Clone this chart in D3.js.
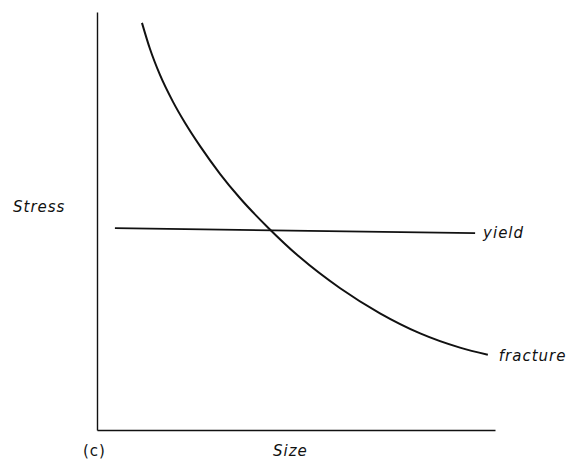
<!DOCTYPE html>
<html>
<head>
<meta charset="utf-8">
<script src="https://cdn.jsdelivr.net/npm/d3@7"></script>
<style>
  html, body { margin: 0; padding: 0; background: #fff; }
  svg text { font-family: "DejaVu Sans", sans-serif; fill: #111; }
</style>
</head>
<body>
<svg id="chart" width="575" height="461"></svg>
<script>
// Schematic stress vs. size: fracture stress falls with size, yield stress is roughly constant
const fractureSize   = [11.3, 13.3, 15.8, 19.1, 22.1, 25.9, 30.9, 35.9, 43.0, 51.0, 61.1, 71.1, 81.2, 91.2, 98.2];
const fractureStress = [97.4, 91.2, 85.0, 78.5, 73.5, 67.9, 61.3, 55.5, 48.4, 41.3, 33.9, 27.9, 23.1, 19.7, 18.0];
const yieldSize   = [4.5, 95.0];
const yieldStress = [48.3, 47.1];
const seriesLabels = ["yield", "fracture"];
const axisLabels = { x: "Size", y: "Stress", panel: "(c)" };

const svg = d3.select("#chart");
const x = d3.scaleLinear().domain([0, 100]).range([97, 495]);
const y = d3.scaleLinear().domain([0, 100]).range([430, 12]);

// bare axes, no ticks
const xAxis = svg.append("g").attr("transform", `translate(0,${y(0)})`)
  .call(d3.axisBottom(x).tickValues([]).tickSizeOuter(0));
const yAxis = svg.append("g").attr("transform", `translate(${x(0)},0)`)
  .call(d3.axisLeft(y).tickValues([]).tickSizeOuter(0));
[xAxis, yAxis].forEach(a => a.select(".domain").attr("stroke", "#111").attr("stroke-width", 1.4));

const line = d3.line().x(d => x(d[0])).y(d => y(d[1]));

svg.append("path")
  .datum(yieldSize.map((s, i) => [s, yieldStress[i]]))
  .attr("d", line)
  .attr("fill", "none").attr("stroke", "#111").attr("stroke-width", 1.8);

svg.append("path")
  .datum(fractureSize.map((s, i) => [s, fractureStress[i]]))
  .attr("d", line.curve(d3.curveMonotoneX))
  .attr("fill", "none").attr("stroke", "#111").attr("stroke-width", 2);

const labelStyle = t => t.attr("font-size", 15).attr("font-style", "italic").attr("letter-spacing", 1);

// series labels at the line ends
labelStyle(svg.append("text")
  .attr("x", x(yieldSize[1]) + 8).attr("y", y(yieldStress[1]) + 5)
  .text(seriesLabels[0]));
labelStyle(svg.append("text")
  .attr("x", x(fractureSize[fractureSize.length - 1]) + 11)
  .attr("y", y(fractureStress[fractureStress.length - 1]) + 6)
  .text(seriesLabels[1]));

// axis titles
labelStyle(svg.append("text").attr("x", 13).attr("y", 212).text(axisLabels.y));
labelStyle(svg.append("text").attr("x", 273).attr("y", 456).text(axisLabels.x));
svg.append("text").attr("x", 83).attr("y", 456)
  .attr("font-size", 15).attr("letter-spacing", 1).text(axisLabels.panel);
</script>
</body>
</html>
